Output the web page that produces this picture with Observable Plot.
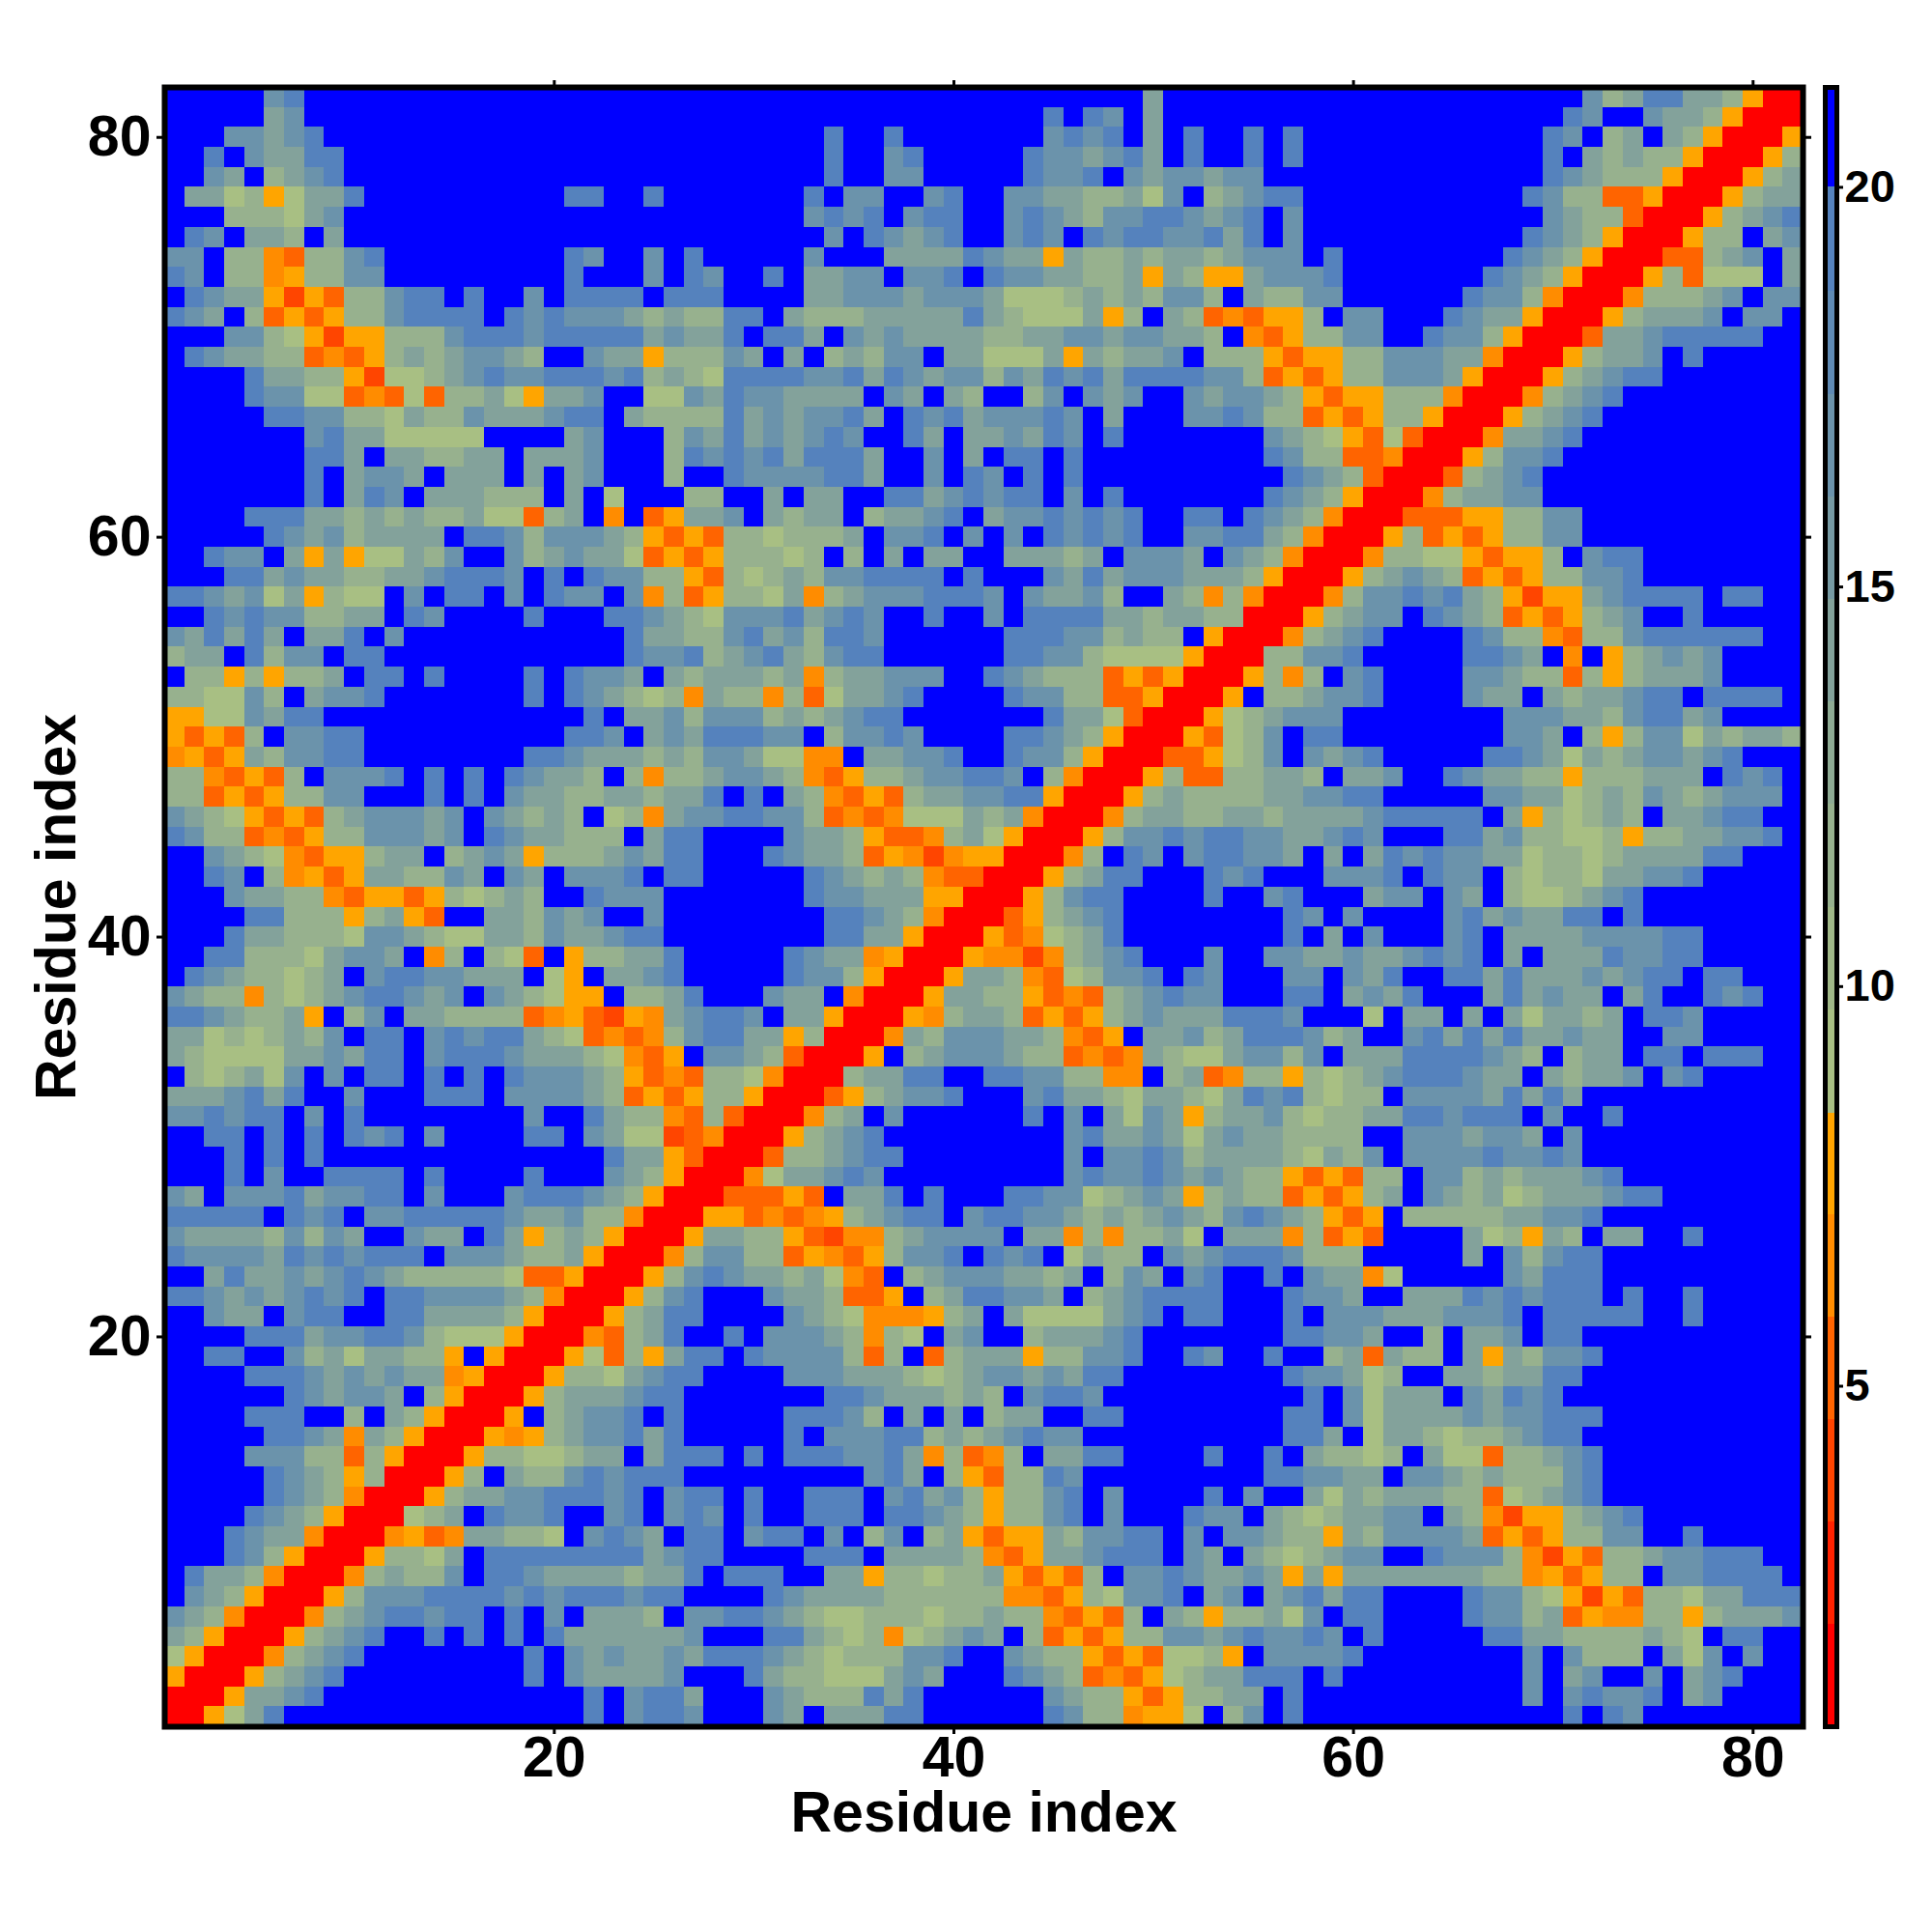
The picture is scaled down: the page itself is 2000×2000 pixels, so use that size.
<!DOCTYPE html>
<html>
<head>
<meta charset="utf-8">
<style>
html,body{margin:0;padding:0;background:#fff}
#chart{position:relative;width:2000px;height:2000px}
#chart svg{position:absolute;left:0;top:0;background:transparent}
</style>
<script src="https://cdn.jsdelivr.net/npm/d3@7"></script>
<script src="https://cdn.jsdelivr.net/npm/@observablehq/plot@0.6"></script>
</head>
<body>
<div id="chart"></div>
<script>
// One string per row, residue 82 (top) down to residue 1 (bottom), ten cells per group.
const rows = [
"BBBBB45BBB BBBBBBBBBB BBBBBBBBBB BBBBBBBBBB BBBBBBBBB3 BBBBBBBBBB BBBBBBBBBB B42355332o RR",
"BBBBB34BBB BBBBBBBBBB BBBBBBBBBB BBBBBBBBBB BBBB5B54B3 BBBBBBBBBB BBBBBBBBBB 54BB4332oR RR",
"BBB44345BB BBBBBBBBBB BBBBBBBBBB BBB5BB5BBB BBBB4545B3 B5BB5B5BBB BBBBBBBBB5 4B23B32oRR Ro",
"BB5B43355B BBBBBBBBBB BBBBBBBBBB BBB5BB45BB BBB5443453 B5BB5B5BBB BBBBBBBBB5 B32322oRRR o2",
"BB43B2345B BBBBBBBBBB BBBBBBBBBB BBB5BB44BB BBB5445B43 44344BBBBB BBBBBBBBB5 43222oRRRo 23",
"B3312o1335 BBBBBBBBBB 55BB5BBBBB BB5B44BB45 BB44332231 4B23455BBB BBBBBBBB54 22qqoRRRo2 33",
"BBB222134B BBBBBBBBBB BBBBBBBBBB BB4545B455 BB45432445 54345B4BBB BBBBBBBBB4 322qRRRo23 45",
"B54B332B3B BBBBBBBBBB BBBBBBBBBB BBB4B54345 BB454B5455 44535B4BBB BBBBBBBB54 32oRRRo22B 34",
"44B22pq224 5BBBBBBBBB 54BB4B5BBB BB4BBB3333 5433o32232 3323444B5B BBBBBBB543 2oRRRqq234 B3",
"54B22po224 4BBBBBBBBB 5BBB4B54BB 5B3344B445 B54433223o 32oo34445B BBBBBB5432 oRRRo2q111 B3",
"B5433oroq2 2455B5BB4B 5555B555BB BB33444344 4311123232 442B32244B BBBBB5442p RRRp22234B 44",
"543B2qoqo2 245555B545 4443232255 B322233333 5321113o2B 32qpqoo2B4 4BBB5433oR RRo23334B4 4B",
"BBB4421oro o222455545 555534335B 553B434333 3223344344 332Bpqo224 4BB5442oRR Rq33455555 BB",
"B543322qpq o23234432B B433o22243 B3B23244B3 31113o3233 4B222oqoo2 244433pRRR o2334B5BBB BB",
"BBBB53322o r112345445 5545232155 5544535434 4243545355 55442qoqo2 24443oRRRo 23455BBBBB BB",
"BBBB54411q pq1q2231o3 34BB114354 43333B43B3 2BB24B434B B434432oqo o222pRRRp2 345BBBBBBB BB",
"BBBBB55442 2132243334 55B3222253 434453B545 344454B3BB B445422qoq o22oRRRo23 45BBBBBBBB BB",
"BBBBBBB453 311111BBBB 34BBB24353 43454BB53B 334354B5BB BBBBB4321o q1qRRRp334 5BBBBBBBBB BB",
"BBBBBBB553 B332233B33 34BBB25454 535553BB4B 3B55B5BBBB BBBBB5422q qpRRRo2445 BBBBBBBBBB BB",
"BBBBBBB5B3 443B333B3B 34BBB2BB54 444553BB4B 54B5B5BBBB BBBBBB5432 qRRRq2345B BBBBBBBBBB BB",
"BBBBBBB5B3 54B333222B 3B1BBB22BB 3B33BB5534 5455B4B5BB BBBBB5432o RRRp23344B BBBBBBBBBB BB",
"BBBB555332 32322311q2 3BpBqo334B 3233B23345 B34454545B B55B5432pR RRqqqoo224 4BBBBBBBBB BB",
"BBBBB54342 3333B55424 4432oqoq22 12223B445B 4B4B54545B B445532pRR Ro2qoqo224 4BBBBBBBBB BB",
"BB544B3o3o 11324BB423 4331qoqo22 212B2B3B33 BB33323B44 43B432pRRR p2211oqoo2 B455BBBBBB BB",
"BBB5534332 23345554B5 B54422oq21 232445555B 5BBB435344 43332oRRRo 23432qoqo2 2445BBBBBB BB",
"5543413o21 1B4B55B4B5 44B4p2qo22 13p2344455 54B43342BB 32p2pRRRp2 4454532oro o345555B55 BB",
"BB54544223 3B54BBBB5B BB55432144 453454BB5B B4B5555332 3322RRRo23 44B5432qoq o234BB5BBB BB",
"435353B335 B4BBBBBBBB BBB5332245 342554BBBB BB55544232 2BoRRRp234 5BBBB5422p q224555555 BB",
"233B5244B5 5BBBBBBBBB BBB5445234 532455BBBB BB55442111 1oRRR22445 BBBBB5543B pBo23434BB BB",
"B22o2o223B 55B5BBBB5B 5443B32333 23p233444B B543222qoq oRRRo2p2B4 5BBBB44322 q2o23334BB BB",
"221142B344 5BBBBBBB5B 543212p322 p2q13345BB BB54422qqo RRRoB22344 5BBBB433B3 233455B555 5B",
"oo114355BB BBBBBBBBBB B5B3342444 2323455BBB BBBB5331qR RRo123444B BBBBBBB444 33245534BB BB",
"oqoq2B4455 BBBBBBBBBB 554B343555 44B24454BB BB55432oRR Roq124B55B BBBBBBB443 B2o2441323 32",
"poqo324455 BBBBBBBB55 4333232443 11ppB33445 BB5442oRRR qqo124B434 5BBBBB5543 132344345B BB",
"22pqoq2B44 45B5B5B543 32B2p22344 32pqo22344 554B2pRRRo 2qq22332B3 34BB543322 o222333B54 5B",
"22qoqo2244 BBB5B5B433 22332335B5 B32pqoq233 4455oRRRo2 3222233445 5BBBBB4433 1232432344 4B",
"4321oqoq23 44434B4323 2B12p34455 442qpqp111 323pRRRp23 3223323333 455555B3o2 1232B33455 BB",
"5422qpqo22 44434B5433 222B355BBB B4332oqqp2 31oRRRo244 5455443345 4BBB553422 112o223344 5B",
"BB4321pqoo 233B2343o2 2234355BBB 54332qoprp ooRRRp2B54 B455443B3B 3545443312 212333355B BB",
"BB54B2poqo 332243B43B 4445B55BBB BB543232pq qRRRo2355B BB545BBB44 45B544B212 2133445BBB BB",
"BBB43322pq ooqo21232B B5444BBBBB BB544333oo RRRo2455BB BB5BB45BBB 344B43B211 2345BBBBBB BB",
"BBBB55222o 23oqBB3324 34BB4BBBBB BBB55432pR RRqo2345BB BBBBBB54B4 BBBB453433 55B5BBBBBB BB",
"BBB5332221 4432113324 33455BBBBB BBB5533oRR Roqp1235BB BBBBBB5B3B 4BBB45B333 3444455BBB BB",
"BB55222134 43Bp2B21qB o22335BBBB B5433poRRR opprp2345B BB4BB44334 334545B3B3 3354455BBB BB",
"B54322123B 45544333B1 oB3345BBBB B5442oRRRo 332pq12445 B54BBB44B4 35BB553533 343455B55B BB",
"4322p21234 55434B4321 ooB2235BBB 433BpRRRo3 322oqpq234 544BBB55B3 435BBB3534 33B35BB545 BB",
"5543223oB2 4B332222qp oqrop34554 B33oRRRop2 332qoqo234 3335554BBB 1B33B3B313 323B554BBB BB",
"331212324B 55B4545532 1qpqp24553 3o2RRRp324 44332pqoB3 3423555423 BB45353533 433BB44BBB BB",
"3211113343 55B4555433 321pqoB443 2qRRRoB234 44322qpqp3 21134424B3 335555432B 233B55B555 BB",
"B212314B4B 55B5B5B544 432oqpq221 pRRR23355B B554422ppB 23qp22o212 34555433B3 2334B45BBB BB",
"3334535BB4 BBB555B444 432qoqo22o RRRqo23445 BBB4533213 3213545212 2B44443535 3BBBBBBBBB BB",
"445455B4B5 BBBBBBBB4B B5322pq2qR RRp23B4BBB BBB5B4B314 3o23342122 33554555B4 BB5BBBBBBB BB",
"BB55B5B5B5 45B4BBBB55 B4311rqpRR Ro2345BBBB BBBBB45334 3134332222 BB4443443B 4BBBBBBBBB BB",
"BBB5B5B5BB BBBBBBBBBB BB533oqRRR q223455BBB BBBBB4B445 4233332132 4B44445445 4BBBBBBBBB BB",
"BBB5B4BB55 55B5BBBB5B BB432oRRRp 133454BBBB BBBBB45445 434322oqoq 22B4423233 345BBBBBBB BB",
"43B4445344 55B4BBB455 5432oRRRqq qoqB335B5B BB55441234 3o2322qoqo 23B4323123 33455BBBBB BB",
"55555B545B 4455555433 422pRRRooq pqpo23455B 4554432323 43245432oq oB22222334 45BBBBBBBB BB",
"4333324243 BB433B53o2 32oRRRo332 2oqrpp2344 44B33p2p22 31B333p2qo qBBBB312o3 2B33BB5BBB BB",
"5444435454 555B444322 3oRRRp2442 2qopqo2445 B545B1322B 4345554222 BBBBB3B424 55BBBBBBBB BB",
"BB35334345 43222221qq oRRRo24543 3231pqB234 443323B243 B45BB5B433 p1BBBBB435 55BBBBBBBB BB",
"5543434545 B55444432p RRRo245BBB 4332qqoB23 55443B2345 555BBB5443 BB33354545 55B5BB5BBB BB",
"BB433B455B B5533332oR RRo2355BBB B4321pppo2 3B31111345 B55BBB5B44 43334445B5 5555BB5BBB BB",
"BBBB555344 5542111oRR Rpq235BB5B 44432p21B3 4BB233345B BBBBBB5544 3BB2B334B5 5BBBBBBBBB BB",
"BB55BB4231 3322oBoRRR o1q2o355B5 44442q2Bq2 333o22445B B54BB5BB23 q322B3o324 45BBBBBBBB BB",
"BBBB555434 3433poRRRo 2213455BBB B444333212 34434355BB BBBBBB5443 12BB332335 5BBBBBBBBB BB",
"BBBBBB5434 43B2oRRRo2 333455BBBB BBB5543332 32B4554BBB BBBBBBB5B4 1333B43545 BBBBBBBBBB BB",
"BBBB555BB2 B32oRRRoB2 3445B5BBBB B55542B3B3 B233BB55BB BBBBBB55B4 1333343445 55BBBBBBBB BB",
"BBBBB5543p 32oRRRopo2 344535BBBB B5B4445523 234544BBBB BBBBBB553B 1332122345 5BBBBBBBBB BB",
"BBBB44422q 2oRRRo2211 233B3555B5 B5554453p2 qp2B3355BB BB5BB5B322 12B311q223 45BBBBBBBB BB",
"BBBBB5432o 2RRRo2B322 454555BBBB BBBBB453B2 oq2254BBBB BBBBB55443 3B44323222 45BBBBBBBB BB",
"BBBBB5432p RRRo233445 5545B455B5 BB555B4534 2o2245B4BB BB5B4BB313 233322q123 45BBBBBBBB BB",
"BBBB5432oR RR123B5445 BB45B454B5 BB555B5543 2o2245B4BB B544B32123 344B32proo 2345BBBBBB BB",
"BBB5433pRR Rpoqp33221 B4543B55B4 55B4B24B23 oqoo324455 B4B44322o3 244443qoqo 2244BB5BBB BB",
"BBB542oRRR o2213B5555 55553455BB BB555B3333 2pqo334555 B43B321234 4BB54442pr oq22344555 BB",
"B5332pRRRp 23224B5543 3332335B55 5BB33o2212 23oqoq2B44 543343o3o3 33333322po qo22B44555 5B",
"B432oRRRo2 4445555454 555455BBBB 5433332222 22ppqo2144 5B34B34535 5BBBB54421 oroq221335 55",
"432pRRRp23 455455B5B4 B3332B4455 4321122212 2322pqoq2B 32o22314B5 5BBBB54423 qopp22o233 34",
"32oRRRo234 5BB5B5B5B5 3333334BBB 553212p123 43B2qoqo22 443454454B 5BBBBB5533 2222321B55 BB",
"1oRRRp2345 BBBBBBBB5B 4343343555 4321222445 BB4322oqoq 112oB44445 BBBBBBBB4B 4222B314B4 BB",
"oRRRo2345B BBBBBBBB5B 433334BBB5 322111343B BB5432qpqo 1233555B5B BBBBBBBB4B 34BB4B345B BB",
"RRRo3345BB BBBBBBBBBB B5B4553BBB 43222535BB BBBB4322oq o2233B5BBB BBBBBBBB4B 45445B34BB BB",
"RRo135BBBB BBBBBBBBBB B5B4554BBB 43B33355BB BBBB5422po o1B24B5BBB BBBBBBBBBB 5B54BBBBBB BB"
];
const codeValues = {R:1.4, r:3.9, q:5.2, p:6.5, o:7.8, "1":9.06, "2":11.6, "3":14.2, "4":16.8, "5":19.3, B:20.6};
const breaks = [2.02,3.3,4.58,5.86,7.14,8.42,9.71,10.99,12.28,13.56,14.85,16.13,17.41,18.7,20];
const bandColors = ["#ff0000","#ff2200","#ff4500","#ff6400","#ff8c00","#ffa500",
  "#a8bf83","#a0b888","#97b18e","#8eab94","#83a29b","#769aa3","#6b93ab","#5f8ab4","#5582bd","#0000ff"];
const colorMin = 0.74, colorMax = 21.25;
const axisTicks = [20,40,60,80];
const barTicks = [5,10,15,20];
const font = "'Liberation Sans', Arial, sans-serif";
const noLabel = () => "";

const cells = rows.flatMap((row, i) => {
  const s = row.replace(/ /g, "");
  return Array.from(s, (c, j) => ({x: j + 1, y: 82 - i, v: codeValues[c]}));
});
const color = {type: "threshold", domain: breaks, range: bandColors};
const edges = [colorMin, ...breaks, colorMax];
const bands = d3.pairs(edges).map(([lo, hi]) => ({lo, hi, mid: (lo + hi) / 2}));

const main = Plot.plot({
  width: 2000, height: 2000,
  marginLeft: 170, marginRight: 134, marginTop: 90, marginBottom: 213,
  style: {fontFamily: font, fontWeight: "bold", color: "#000"},
  x: {domain: [0.5, 82.5]},
  y: {domain: [0.5, 82.5]},
  color,
  marks: [
    Plot.rect(cells, {x1: d => d.x - .5, x2: d => d.x + .5, y1: d => d.y - .5, y2: d => d.y + .5,
      fill: "v", shapeRendering: "crispEdges"}),
    Plot.frame({stroke: "#000", strokeWidth: 6}),
    Plot.axisX({anchor: "bottom", ticks: axisTicks, tickSize: 8, tickPadding: 2, fontSize: 59,
      strokeWidth: 3, label: "Residue index", labelAnchor: "center", labelArrow: "none", labelOffset: 108}),
    Plot.axisX({anchor: "top", ticks: axisTicks, tickSize: 8, tickFormat: noLabel, strokeWidth: 3, label: null}),
    Plot.axisY({anchor: "left", ticks: axisTicks, tickSize: 8, tickPadding: 6, fontSize: 59,
      strokeWidth: 3, label: "Residue index", labelAnchor: "center", labelArrow: "none", labelOffset: 134}),
    Plot.axisY({anchor: "right", ticks: axisTicks, tickSize: 8, tickFormat: noLabel, strokeWidth: 3, label: null})
  ]
});

const bar = Plot.plot({
  width: 2000, height: 2000,
  marginLeft: 1889, marginRight: 99, marginTop: 90, marginBottom: 213,
  style: {fontFamily: font, fontWeight: "bold", color: "#000"},
  x: {domain: [0, 1], axis: null},
  y: {domain: [colorMin, colorMax]},
  color,
  marks: [
    Plot.rect(bands, {x1: 0, x2: 1, y1: "lo", y2: "hi", fill: "mid", shapeRendering: "crispEdges"}),
    Plot.frame({stroke: "#000", strokeWidth: 5}),
    Plot.axisY({anchor: "right", ticks: barTicks, tickSize: 6, tickPadding: 2, fontSize: 47,
      strokeWidth: 3, label: null})
  ]
});

document.getElementById("chart").append(main, bar);
</script>
</body>
</html>
